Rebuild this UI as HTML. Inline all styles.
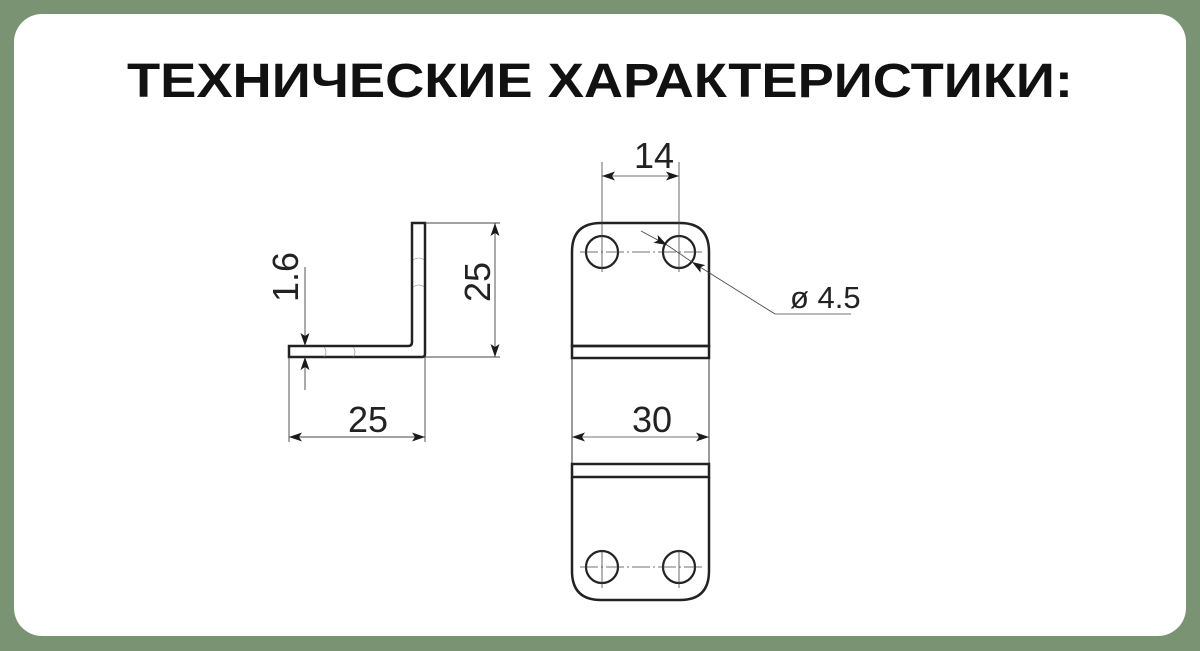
<!DOCTYPE html>
<html><head><meta charset="utf-8"><style>
html,body{margin:0;padding:0;background:#7a9373;}
svg{display:block}
</style></head><body>
<svg width="1200" height="651" viewBox="0 0 1200 651" xmlns="http://www.w3.org/2000/svg">
<defs>
<marker id="a" viewBox="0 0 13 9" refX="13" refY="4.5" markerWidth="13" markerHeight="9" orient="auto-start-reverse" markerUnits="userSpaceOnUse"><path d="M0,0 L13,4.5 L0,9 L3,4.5 Z" fill="#1a1a1a"/></marker>
</defs>
<rect x="0" y="0" width="1200" height="651" fill="#7a9373"/>
<rect x="14" y="14" width="1172" height="622" rx="28" fill="#fff"/>
<text x="600" y="97" text-anchor="middle" font-family="Liberation Sans, sans-serif" font-weight="bold" font-size="48" textLength="946" lengthAdjust="spacingAndGlyphs" fill="#111">ТЕХНИЧЕСКИЕ ХАРАКТЕРИСТИКИ:</text>

<g fill="none" stroke="#222">
<path d="M289,346 H408 Q412,346 412,342 V223 H425 V354 Q425,357 422,357 H289 Z" stroke-width="2.5"/>
<path d="M324,347 q4,5 0,10 M353,347 q4,5 0,10 M413,260 q6,-4 11,0 M413,287 q6,-4 11,0" stroke-width="0.6" stroke="#888"/>
<g stroke-width="0.9" stroke="#444">
<line x1="425" y1="223" x2="500" y2="223"/>
<line x1="425" y1="357" x2="500" y2="357"/>
<line x1="289" y1="357" x2="289" y2="442"/>
<line x1="425" y1="357" x2="425" y2="442"/>
<line x1="305" y1="267" x2="305" y2="346" marker-end="url(#a)"/>
<line x1="305" y1="390" x2="305" y2="357" marker-end="url(#a)"/>
<line x1="495" y1="223" x2="495" y2="357" marker-start="url(#a)" marker-end="url(#a)"/>
<line x1="289" y1="437" x2="425" y2="437" marker-start="url(#a)" marker-end="url(#a)"/>
</g>
<path d="M572,252 Q572,223 601,223 H680 Q709,223 709,252 V346 H572 Z" stroke-width="2.5"/>
<rect x="572" y="346" width="137" height="12" stroke-width="2.5"/>
<rect x="572" y="464" width="137" height="13" stroke-width="2.5"/>
<path d="M572,477 V571 Q572,600 601,600 H680 Q709,600 709,571 V477" stroke-width="2.5"/>
<line x1="572" y1="358" x2="572" y2="464" stroke-width="0.9"/>
<line x1="709" y1="358" x2="709" y2="464" stroke-width="0.9"/>
<circle cx="602" cy="252" r="16" stroke-width="2.2"/>
<circle cx="679" cy="252" r="16" stroke-width="2.2"/>
<circle cx="602" cy="567" r="16" stroke-width="2.2"/>
<circle cx="679" cy="567" r="16" stroke-width="2.2"/>
<g stroke-width="0.8" stroke="#444">
<line x1="580" y1="252" x2="702" y2="252" stroke-dasharray="18,3,2,3"/>
<line x1="580" y1="567" x2="702" y2="567" stroke-dasharray="18,3,2,3"/>
<line x1="602" y1="550" x2="602" y2="588"/>
<line x1="679" y1="550" x2="679" y2="588"/>
<line x1="602" y1="162" x2="602" y2="272"/>
<line x1="679" y1="162" x2="679" y2="272"/>
<line x1="602" y1="176" x2="679" y2="176" marker-start="url(#a)" marker-end="url(#a)"/>
<line x1="572" y1="437" x2="709" y2="437" marker-start="url(#a)" marker-end="url(#a)"/>
<line x1="641" y1="231" x2="667" y2="245" marker-end="url(#a)"/>
<line x1="775" y1="314" x2="692" y2="262" marker-end="url(#a)"/>
<line x1="775" y1="314" x2="851" y2="314"/>
<line x1="667" y1="245" x2="692" y2="262"/>
</g>
</g>
<g font-family="Liberation Sans, sans-serif" font-size="36" fill="#222">
<text x="368" y="432" text-anchor="middle">25</text>
<text x="652" y="432" text-anchor="middle">30</text>
<text x="654" y="168" text-anchor="middle">14</text>
<text transform="translate(490,282) rotate(-90)" text-anchor="middle">25</text>
<text transform="translate(298,277) rotate(-90)" text-anchor="middle">1.6</text>
<text x="790" y="308" font-size="31">ø 4.5</text>
</g>
</svg>
</body></html>
